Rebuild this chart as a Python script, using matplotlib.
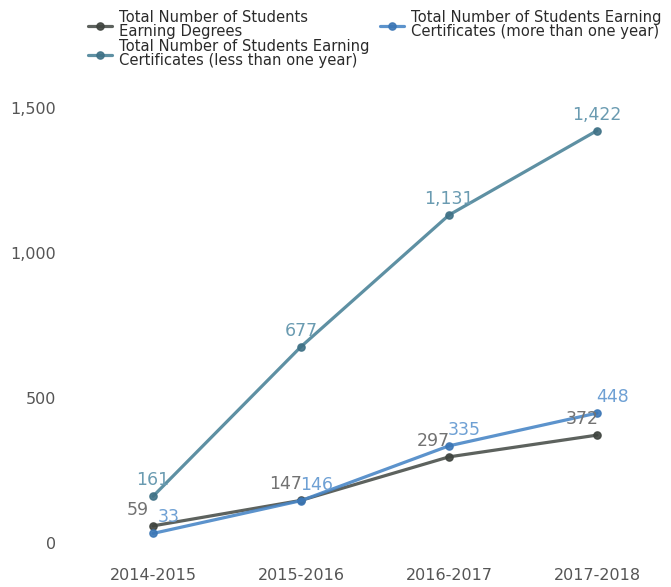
import matplotlib
matplotlib.use("Agg")
import matplotlib.pyplot as plt
from matplotlib.ticker import FuncFormatter

years = ["2014-2015", "2015-2016", "2016-2017", "2017-2018"]
degrees = [59, 147, 297, 372]
cert_less = [161, 677, 1131, 1422]
cert_more = [33, 146, 335, 448]

series = [
    ("Total Number of Students\nEarning Degrees", degrees, "#4b514c", "#3f443f", "#727272", -11),
    ("Total Number of Students Earning\nCertificates (less than one year)", cert_less, "#4c8499", "#3f7186", "#6a9bb1", 0),
    ("Total Number of Students Earning\nCertificates (more than one year)", cert_more, "#4a87c7", "#3b76b5", "#6ea0d4", 11),
]

W, H = 671, 587
fig = plt.figure(figsize=(W / 100, H / 100), dpi=100)
ax_l, ax_r, ax_t, ax_b = 67, 664, 95, 560
ax = fig.add_axes([ax_l / W, 1 - ax_b / H, (ax_r - ax_l) / W, (ax_b - ax_t) / H])

x = list(range(len(years)))
handles = []
for label, vals, lc, mc, tc, dx in series:
    h, = ax.plot(x, vals, color=lc, lw=2.3, alpha=0.9, marker="o", ms=5.2,
                 markerfacecolor=mc, markeredgecolor=mc, label=label,
                 solid_capstyle="round")
    handles.append(h)
    for xi, v in zip(x, vals):
        ax.annotate(f"{v:,}", (xi, v), xytext=(dx, 11.5), textcoords="offset points",
                    ha="center", va="center", fontsize=12.5, color=tc)

# axis ranges in data units (148 px per category, 145 px per 500)
px_x = 148.0
ax.set_xlim(-(153 - ax_l) / px_x, 3 + (ax_r - 597) / px_x)
px_y = 500 / 145.0
ax.set_ylim(-(ax_b - 543) * px_y, 1500 + (108 - ax_t) * px_y)

ax.set_xticks(x)
ax.set_xticklabels(years)
ax.set_yticks([0, 500, 1000, 1500])
ax.yaxis.set_major_formatter(FuncFormatter(lambda v, p: f"{int(v):,}"))
ax.tick_params(axis="both", length=0, labelsize=11.5, colors="#555555")
ax.tick_params(axis="x", pad=6)
ax.tick_params(axis="y", pad=8)
for s in ax.spines.values():
    s.set_visible(False)

leg = fig.legend(handles=handles, labels=[h.get_label() for h in handles],
                 loc="upper left", bbox_to_anchor=(78 / W, 1.0), ncol=2,
                 frameon=False, fontsize=10.6, handlelength=1.6, handletextpad=0.5,
                 labelspacing=0.0, columnspacing=0.7, borderpad=0.2,
                 labelcolor="#2a2a2a")
for t in leg.get_texts():
    t.set_linespacing(0.92)

fig.savefig("out.png", dpi=100, facecolor="white")
